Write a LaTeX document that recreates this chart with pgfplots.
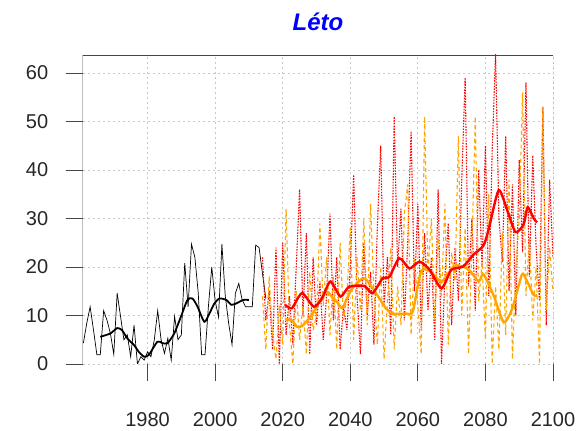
\documentclass[border=0pt]{standalone}
\usepackage{pgfplots}
\pgfplotsset{compat=1.18}
\usepackage{fontspec}
\setmainfont{Liberation Sans}
\definecolor{rorange}{RGB}{255,165,0}
\definecolor{rred}{RGB}{255,0,0}
\definecolor{gridgray}{RGB}{200,200,200}
\definecolor{framegray}{RGB}{70,70,70}
\begin{document}
\begin{tikzpicture}[x=1pt,y=1pt]
\useasboundingbox (0,0) rectangle (582,431);
\begin{axis}[
  at={(82.7pt,67pt)}, anchor=south west,
  width=470.3pt, height=309pt, scale only axis,
  xmin=1960.8, xmax=2100, ymin=0, ymax=63.7,
  axis line style={draw=none},
  xtick={1980,2000,2020,2040,2060,2080,2100},
  ytick={0,10,20,30,40,50,60},
  xtick pos=bottom, ytick pos=left,
  tick align=outside, major tick length=17pt,
  tick style={framegray, line width=0.8pt},
  x tick label style={yshift=-28pt},
  yticklabel shift=14pt,
  /pgf/number format/assume math mode=true,
  /pgf/number format/1000 sep={},
  tick label style={font=\fontsize{20}{21}\selectfont, text=black!85},
  grid=major,
  major grid style={gridgray, line width=0.8pt, dash pattern=on 2pt off 3pt},
  clip=true,
]
% frame
\draw[framegray, line width=0.9pt] (rel axis cs:0,0) -- (rel axis cs:0,1) -- (rel axis cs:1,1);
\draw[black!80, line width=0.9pt, dash pattern=on 1.5pt off 1.5pt] (rel axis cs:0,0) -- (rel axis cs:1,0) -- (rel axis cs:1,1);

% observed thin
\addplot[black, line width=0.7pt] coordinates {
(1961,4.3)(1962,8.4)(1963,11.8)(1964,7)(1965,1.9)(1966,1.9)(1967,11)(1968,9)(1969,6.3)(1970,2)
(1971,14.6)(1972,9.8)(1973,5)(1974,6)(1975,1.5)(1976,8)(1977,0)(1978,1.5)(1979,0.8)(1980,2.5)
(1981,1.5)(1982,5)(1983,11)(1984,5)(1985,2.2)(1986,5.3)(1987,0.8)(1988,9.8)(1989,5)(1990,6)
(1991,20.8)(1992,11.8)(1993,24.7)(1994,22)(1995,14.6)(1996,1.9)(1997,1.9)(1998,11.8)(1999,20)(2000,13)
(2001,9.7)(2002,24.7)(2003,14)(2004,8.4)(2005,4)(2006,14.6)(2007,16.6)(2008,13.2)(2009,11.8)(2011,11.8)
(2012,24.5)(2013,24)(2014,18.7)(2015,13.5)};

% observed smoothed
\addplot[black, line width=1.8pt, smooth, tension=0.4] coordinates {
(1966,5.6)(1969,6.3)(1971,7.4)(1972.4,7.0)(1974,5.3)(1976,3.9)(1977.4,2.5)(1979,1.5)(1980.4,1.9)
(1982.9,4.6)(1984.4,4.3)(1985.9,4.3)(1987.9,6.3)(1989.9,9.8)(1991.8,13.2)(1993.3,13.5)(1994.8,11.8)
(1996.8,8.7)(1998.3,10.4)(1999.8,12.5)(2001.3,13.5)(2003.3,13.2)(2004.8,12.2)(2006.3,12.5)(2008.3,13.2)(2010,13.2)};

% red projection (dotted)
\addplot[rred, line width=1.1pt, dash pattern=on 1.5pt off 1.3pt] coordinates {
(2014,22)(2015,9)(2016,15)(2017,3)(2018,24)(2019,0)(2020,25)(2021,6)(2022,14)(2023,4)
(2024,20)(2025,36)(2026,10)(2027,27)(2028,2)(2029,22)(2030,8)(2031,17)(2032,5)(2033,14)
(2034,31)(2035,9)(2036,22)(2037,3)(2038,12)(2039,7)(2040,20)(2041,39)(2042,14)(2043,2)
(2044,25)(2045,10)(2046,19)(2047,4)(2048,28)(2049,45)(2050,12)(2051,22)(2052,6)(2053,51)
(2054,20)(2055,32)(2056,9)(2057,25)(2058,48)(2059,15)(2060,33)(2061,7)(2062,27)(2063,11)
(2064,22)(2065,5)(2066,36)(2067,0)(2068,18)(2069,29)(2070,8)(2071,24)(2072,13)(2073,38)
(2074,59)(2075,16)(2076,30)(2077,11)(2078,40)(2079,20)(2080,45)(2081,14)(2082,44)(2083,64)
(2084,30)(2085,21)(2086,47)(2087,15)(2088,37)(2089,10)(2090,42)(2091,23)(2092,58)(2093,18)
(2094,43)(2095,24)(2096,13)(2097,53)(2098,8)(2099,38)(2100,22)};

% orange projection (dashed)
\addplot[rorange, line width=1.1pt, dash pattern=on 4pt off 3pt] coordinates {
(2014,14)(2015,3)(2016,18)(2017,6)(2018,1)(2019,12)(2020,4)(2021,32)(2022,8)(2023,0)
(2024,15)(2025,5)(2026,12)(2027,2)(2028,19)(2029,7)(2030,10)(2031,29)(2032,12)(2033,22)
(2034,6)(2035,18)(2036,3)(2037,25)(2038,9)(2039,14)(2040,28)(2041,5)(2042,22)(2043,11)
(2044,30)(2045,8)(2046,33)(2047,15)(2048,4)(2049,20)(2050,1)(2051,13)(2052,24)(2053,3)
(2054,16)(2055,8)(2056,31)(2057,37)(2058,6)(2059,22)(2060,12)(2061,2)(2062,51)(2063,19)
(2064,30)(2065,9)(2066,26)(2067,14)(2068,33)(2069,4)(2070,23)(2071,17)(2072,47)(2073,10)
(2074,28)(2075,2)(2076,24)(2077,51)(2078,13)(2079,21)(2080,5)(2081,35)(2082,0)(2083,16)
(2084,3)(2085,27)(2086,6)(2087,38)(2088,1)(2089,20)(2090,30)(2091,56)(2092,14)(2093,26)
(2094,9)(2095,20)(2096,0)(2097,53)(2098,11)(2099,24)(2100,15)};

% orange smoothed
\addplot[rorange, line width=2.4pt, smooth, tension=0.4] coordinates {
(2020.7,9.2)(2022.7,9.0)(2024.2,7.7)(2025.7,7.8)(2027.2,8.9)(2029,10.5)(2031.1,13.2)(2033.1,14.9)
(2034.6,13.8)(2036.1,12.8)(2037.6,11.5)(2039,13.5)(2040.6,15.6)(2044.1,17.7)(2047.6,14.6)(2050.5,11.5)
(2052.5,10.4)(2056.5,10.4)(2058.5,10.8)(2061,19.2)(2064,18.9)(2067,17.0)(2071,20.3)(2075,19.5)
(2078,17.0)(2079.4,18.5)(2082.4,14.2)(2085.4,8.6)(2087.9,11.4)(2090.8,18.4)(2092,17.5)(2094.3,14.2)(2095.3,14.2)};

% red smoothed
\addplot[rred, line width=2.4pt, smooth, tension=0.4] coordinates {
(2020.7,12.2)(2022.7,11.5)(2025.7,14.6)(2029.2,11.8)(2031.6,13.5)(2034.1,17.0)(2037.1,13.9)
(2039.6,15.9)(2044.1,16.1)(2046.6,14.6)(2049.6,17.7)(2051.6,18.0)(2054.5,21.8)(2057.5,19.7)
(2060.5,21.1)(2063.5,19.4)(2067.0,15.6)(2069.9,19.4)(2073.4,20.1)(2076.4,22.5)(2079.4,24.4)
(2080.9,27.6)(2083.9,35.8)(2086.4,31.8)(2088.9,27.2)(2091.3,28.8)(2092.5,32.3)(2094.3,30.0)(2095.3,29.2)};
\end{axis}
\node[text=blue, font=\fontsize{24}{26}\selectfont\bfseries\itshape] at (318,409) {Léto};
\end{tikzpicture}
\end{document}
